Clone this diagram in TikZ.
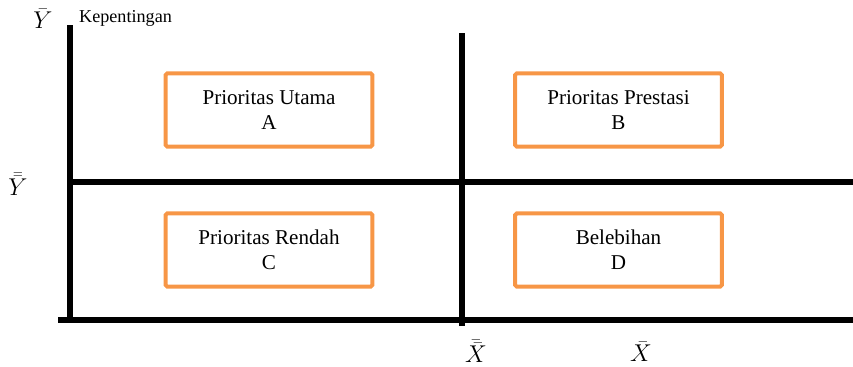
\documentclass[tikz,border=0pt]{standalone}
\usepackage{fontspec}
\setmainfont{Liberation Serif}
\definecolor{kotak}{RGB}{247,150,70}
\tikzset{
    sumbu/.style = {line width = 1.6mm},
    kuadran/.style = {draw = kotak, line width = 1.2mm, rounded corners = 0.5mm,
        minimum width = 6.2cm, minimum height = 2.2cm, align = center,
        font = \fontsize{18}{21}\selectfont},
    label/.style = {font = \fontsize{20}{22}\selectfont}
}

\begin{document}
\begin{tikzpicture}[x = 0.03cm, y = -0.03cm]%
    \useasboundingbox (0, 0) rectangle (853, 366);
    \coordinate (y0) at (70, 322);
    \coordinate (y1) at (70, 25);
    \coordinate (m0) at (462, 326);
    \coordinate (m1) at (462, 33);
    \coordinate (h0) at (70, 182);
    \coordinate (h1) at (853, 182);
    \coordinate (x0) at (58, 320);
    \coordinate (x1) at (853, 320);
    \draw[sumbu] (y0) -- (y1);
    \draw[sumbu] (m0) -- (m1);
    \draw[sumbu] (h0) -- (h1);
    \draw[sumbu] (x0) -- (x1);
    \node[kuadran] (A) at (269, 110) {Prioritas Utama\\A};
    \node[kuadran] (B) at (618.5, 110) {Prioritas Prestasi\\B};
    \node[kuadran] (C) at (269, 250) {Prioritas Rendah\\C};
    \node[kuadran] (D) at (618.5, 250) {Belebihan\\D};
    \node[label] (ybar) at (43, 19) {$\bar{Y}$};
    \node[anchor = west, font = \fontsize{15.5}{18}\selectfont] (kep) at (75, 18) {Kepentingan};
    \node[label] (ybb) at (18, 184) {$\bar{\bar{Y}}$};
    \node[label] (xbb) at (476, 351) {$\bar{\bar{X}}$};
    \node[label] (xbar) at (641, 352) {$\bar{X}$};
\end{tikzpicture}
\end{document}
